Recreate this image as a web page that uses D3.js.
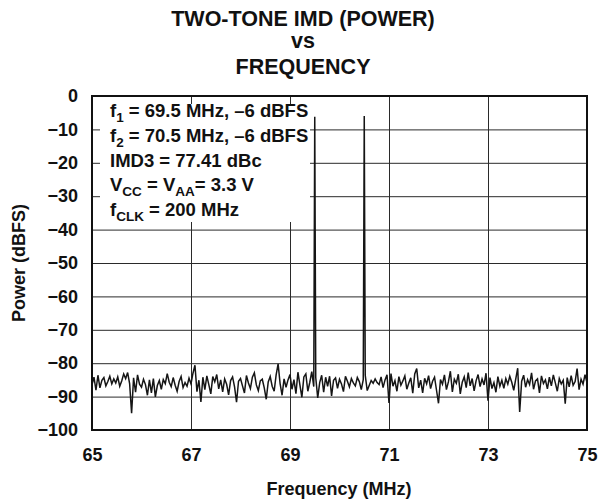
<!DOCTYPE html>
<html>
<head>
<meta charset="utf-8">
<script src="https://cdn.jsdelivr.net/npm/d3@7"></script>
<style>
  body { margin: 0; background: #fff; }
  text { font-family: "Liberation Sans", Arial, sans-serif; font-weight: bold; fill: #111; }
</style>
</head>
<body>
<svg id="chart" width="602" height="501"></svg>
<script>
// FFT bins, 0.04 MHz apart starting at 65 MHz
var freqStart = 65;
var freqStep = 0.04;

// noise floor, one value per bin (dBFS)
var noiseDbfs = [
  -86.5, -84.2, -88.1, -83.6, -87.4, -85.1, -84.3, -86.8, -85.5, -83.9, -86.2, -84.7, -85.9, -84.1, -86.9, -85.3, -83.2, -84.6, -82.8, -86.1, -95.0, -84.4, -88.7, -83.5, -86.3,
  -87.2, -84.8, -86.4, -89.6, -85.0, -88.9, -84.6, -90.1, -86.7, -85.2, -87.8, -84.9, -86.1, -83.1, -85.7, -87.0, -84.3, -86.6, -88.4, -85.5, -84.0, -87.3, -85.8, -86.9, -84.5,
  -86.2, -83.0, -80.6, -88.5, -85.1, -91.6, -84.2, -87.9, -83.8, -86.4, -89.2, -84.0, -85.6, -83.4, -87.7, -85.0, -88.6, -84.7, -86.3, -89.5, -85.2, -84.1, -87.1, -91.7, -85.4,
  -84.6, -86.8, -88.9, -83.7, -85.9, -87.6, -84.2, -82.9, -86.5, -88.2, -85.3, -84.8, -87.4, -90.8, -85.6, -84.0, -86.9, -88.4, -83.5, -80.2, -86.1, -89.6, -84.7, -87.2, -85.0,
  -83.4, -87.8, -84.9, -89.1, -82.7, -86.5, -90.2, -84.1, -83.2, -88.4, -85.7, -82.5, -87.0, -84.3, -90.4, -85.8, -83.6, -88.7, -84.2, -86.9, -83.9, -89.8, -85.1, -84.4, -87.5,
  -84.8, -86.2, -88.5, -83.9, -85.4, -87.1, -84.6, -85.9, -86.8, -84.3, -85.5, -87.9, -84.9, -83.6, -88.2, -86.7, -85.2, -86.0, -84.7, -85.8, -86.4, -84.1, -87.3, -85.0, -83.5,
  -91.9, -83.1, -86.9, -85.2, -88.4, -84.0, -86.6, -85.3, -83.8, -87.8, -85.9, -84.4, -89.0, -83.2, -81.6, -87.4, -85.1, -88.9, -84.5, -86.2, -83.7, -87.6, -85.4, -84.2, -88.1,
  -92.0, -84.9, -86.3, -83.5, -87.9, -85.6, -82.4, -88.6, -84.8, -86.0, -83.3, -89.2, -85.7, -84.1, -87.3, -82.8, -86.8, -84.6, -88.3, -85.2, -83.4, -87.0, -84.7, -86.5, -83.0,
  -91.2, -84.3, -87.6, -85.8, -88.7, -84.0, -86.9, -85.1, -87.5, -84.6, -86.3, -83.9, -85.7, -88.1, -84.8, -81.5, -94.6, -85.4, -83.6, -87.2, -84.9, -86.4, -82.9, -87.8, -85.3,
  -84.7, -88.9, -83.8, -86.1, -85.0, -87.7, -84.2, -86.8, -83.5, -85.9, -88.4, -84.6, -86.2, -85.1, -92.1, -84.3, -87.1, -83.7, -86.6, -85.5, -81.6, -87.9, -84.8, -86.3, -83.4, -85.8
];

// the two input tones
var toneFreqs = [69.5, 70.5];
var toneDbfs = [-6.2, -6.0];

var xTicks = [65, 67, 69, 71, 73, 75];
var yTicks = [0, -10, -20, -30, -40, -50, -60, -70, -80, -90, -100];

var titleLines = ["TWO-TONE IMD (POWER)", "vs", "FREQUENCY"];

var svg = d3.select("#chart");

var plotL = 92, plotR = 587, plotT = 96, plotB = 430;

var x = d3.scaleLinear().domain([65, 75]).range([plotL, plotR]);
var y = d3.scaleLinear().domain([-100, 0]).range([plotB, plotT]);

// title
var titleY = [26, 48, 74];
svg.selectAll(".title")
    .data(titleLines)
    .enter().append("text")
    .attr("class", "title")
    .attr("x", 303)
    .attr("y", function(d, i){ return titleY[i]; })
    .attr("text-anchor", "middle")
    .attr("font-size", "21.5px")
    .text(function(d){ return d; });

// grid via axes
var fmt = function(d){ return d < 0 ? "\u2212" + Math.abs(d) : d; };

var gx = svg.append("g")
    .attr("transform", "translate(0," + plotB + ")")
    .call(d3.axisBottom(x).tickValues(xTicks).tickSize(-(plotB - plotT)).tickPadding(18).tickFormat(fmt));

var gy = svg.append("g")
    .attr("transform", "translate(" + plotL + ",0)")
    .call(d3.axisLeft(y).tickValues(yTicks).tickSize(-(plotR - plotL)).tickPadding(14).tickFormat(fmt));

[gx, gy].forEach(function(g){
    g.select(".domain").remove();
    g.selectAll(".tick line").attr("stroke", "#2a2a2a").attr("stroke-width", 1);
    g.selectAll(".tick text")
        .attr("font-size", "18px")
        .attr("font-family", "Liberation Sans, Arial, sans-serif")
        .attr("font-weight", "bold")
        .attr("fill", "#111");
});

// white note box covering the grid
svg.append("rect")
    .attr("x", 100)
    .attr("y", 104)
    .attr("width", 210)
    .attr("height", 118)
    .attr("fill", "#fff");

var note = svg.append("g").attr("font-size", "18.5px");
var noteX = 110;

function subLine(yy, parts){
    var t = note.append("text").attr("x", noteX).attr("y", yy);
    parts.forEach(function(p){
        var s = t.append("tspan").text(p[0]);
        if (p[1]) {
            s.attr("font-size", "13.5px").attr("dy", 5);
        } else if (p[2]) {
            s.attr("dy", -5);
        }
    });
}

subLine(117, [["f"], ["1", true], ["\u00a0= 69.5 MHz, \u20136 dBFS", false, true]]);
subLine(142, [["f"], ["2", true], ["\u00a0= 70.5 MHz, \u20136 dBFS", false, true]]);
subLine(167, [["IMD3 = 77.41 dBc"]]);
subLine(191, [["V"], ["CC", true], ["\u00a0= V", false, true], ["AA", true], ["= 3.3 V", false, true]]);
subLine(216, [["f"], ["CLK", true], ["\u00a0= 200 MHz", false, true]]);

// spectrum: noise bins plus the two tones
var spectrum = noiseDbfs.map(function(v, i){
    return { f: freqStart + i * freqStep, p: v };
});
toneFreqs.forEach(function(f, i){
    spectrum.push({ f: f, p: toneDbfs[i] });
});
spectrum.sort(function(a, b){ return a.f - b.f; });

var line = d3.line()
    .x(function(d){ return x(d.f); })
    .y(function(d){ return y(d.p); });

svg.append("path")
    .datum(spectrum)
    .attr("d", line)
    .attr("fill", "none")
    .attr("stroke", "#151515")
    .attr("stroke-width", 1.5)
    .attr("stroke-linejoin", "miter");

// frame
svg.append("rect")
    .attr("x", plotL)
    .attr("y", plotT)
    .attr("width", plotR - plotL)
    .attr("height", plotB - plotT)
    .attr("fill", "none")
    .attr("stroke", "#111")
    .attr("stroke-width", 2);

// axis titles
svg.append("text")
    .attr("x", 339)
    .attr("y", 495)
    .attr("text-anchor", "middle")
    .attr("font-size", "18px")
    .text("Frequency (MHz)");

svg.append("text")
    .attr("transform", "translate(25," + ((plotT + plotB) / 2) + ") rotate(-90)")
    .attr("text-anchor", "middle")
    .attr("font-size", "18px")
    .text("Power (dBFS)");
</script>
</body>
</html>
